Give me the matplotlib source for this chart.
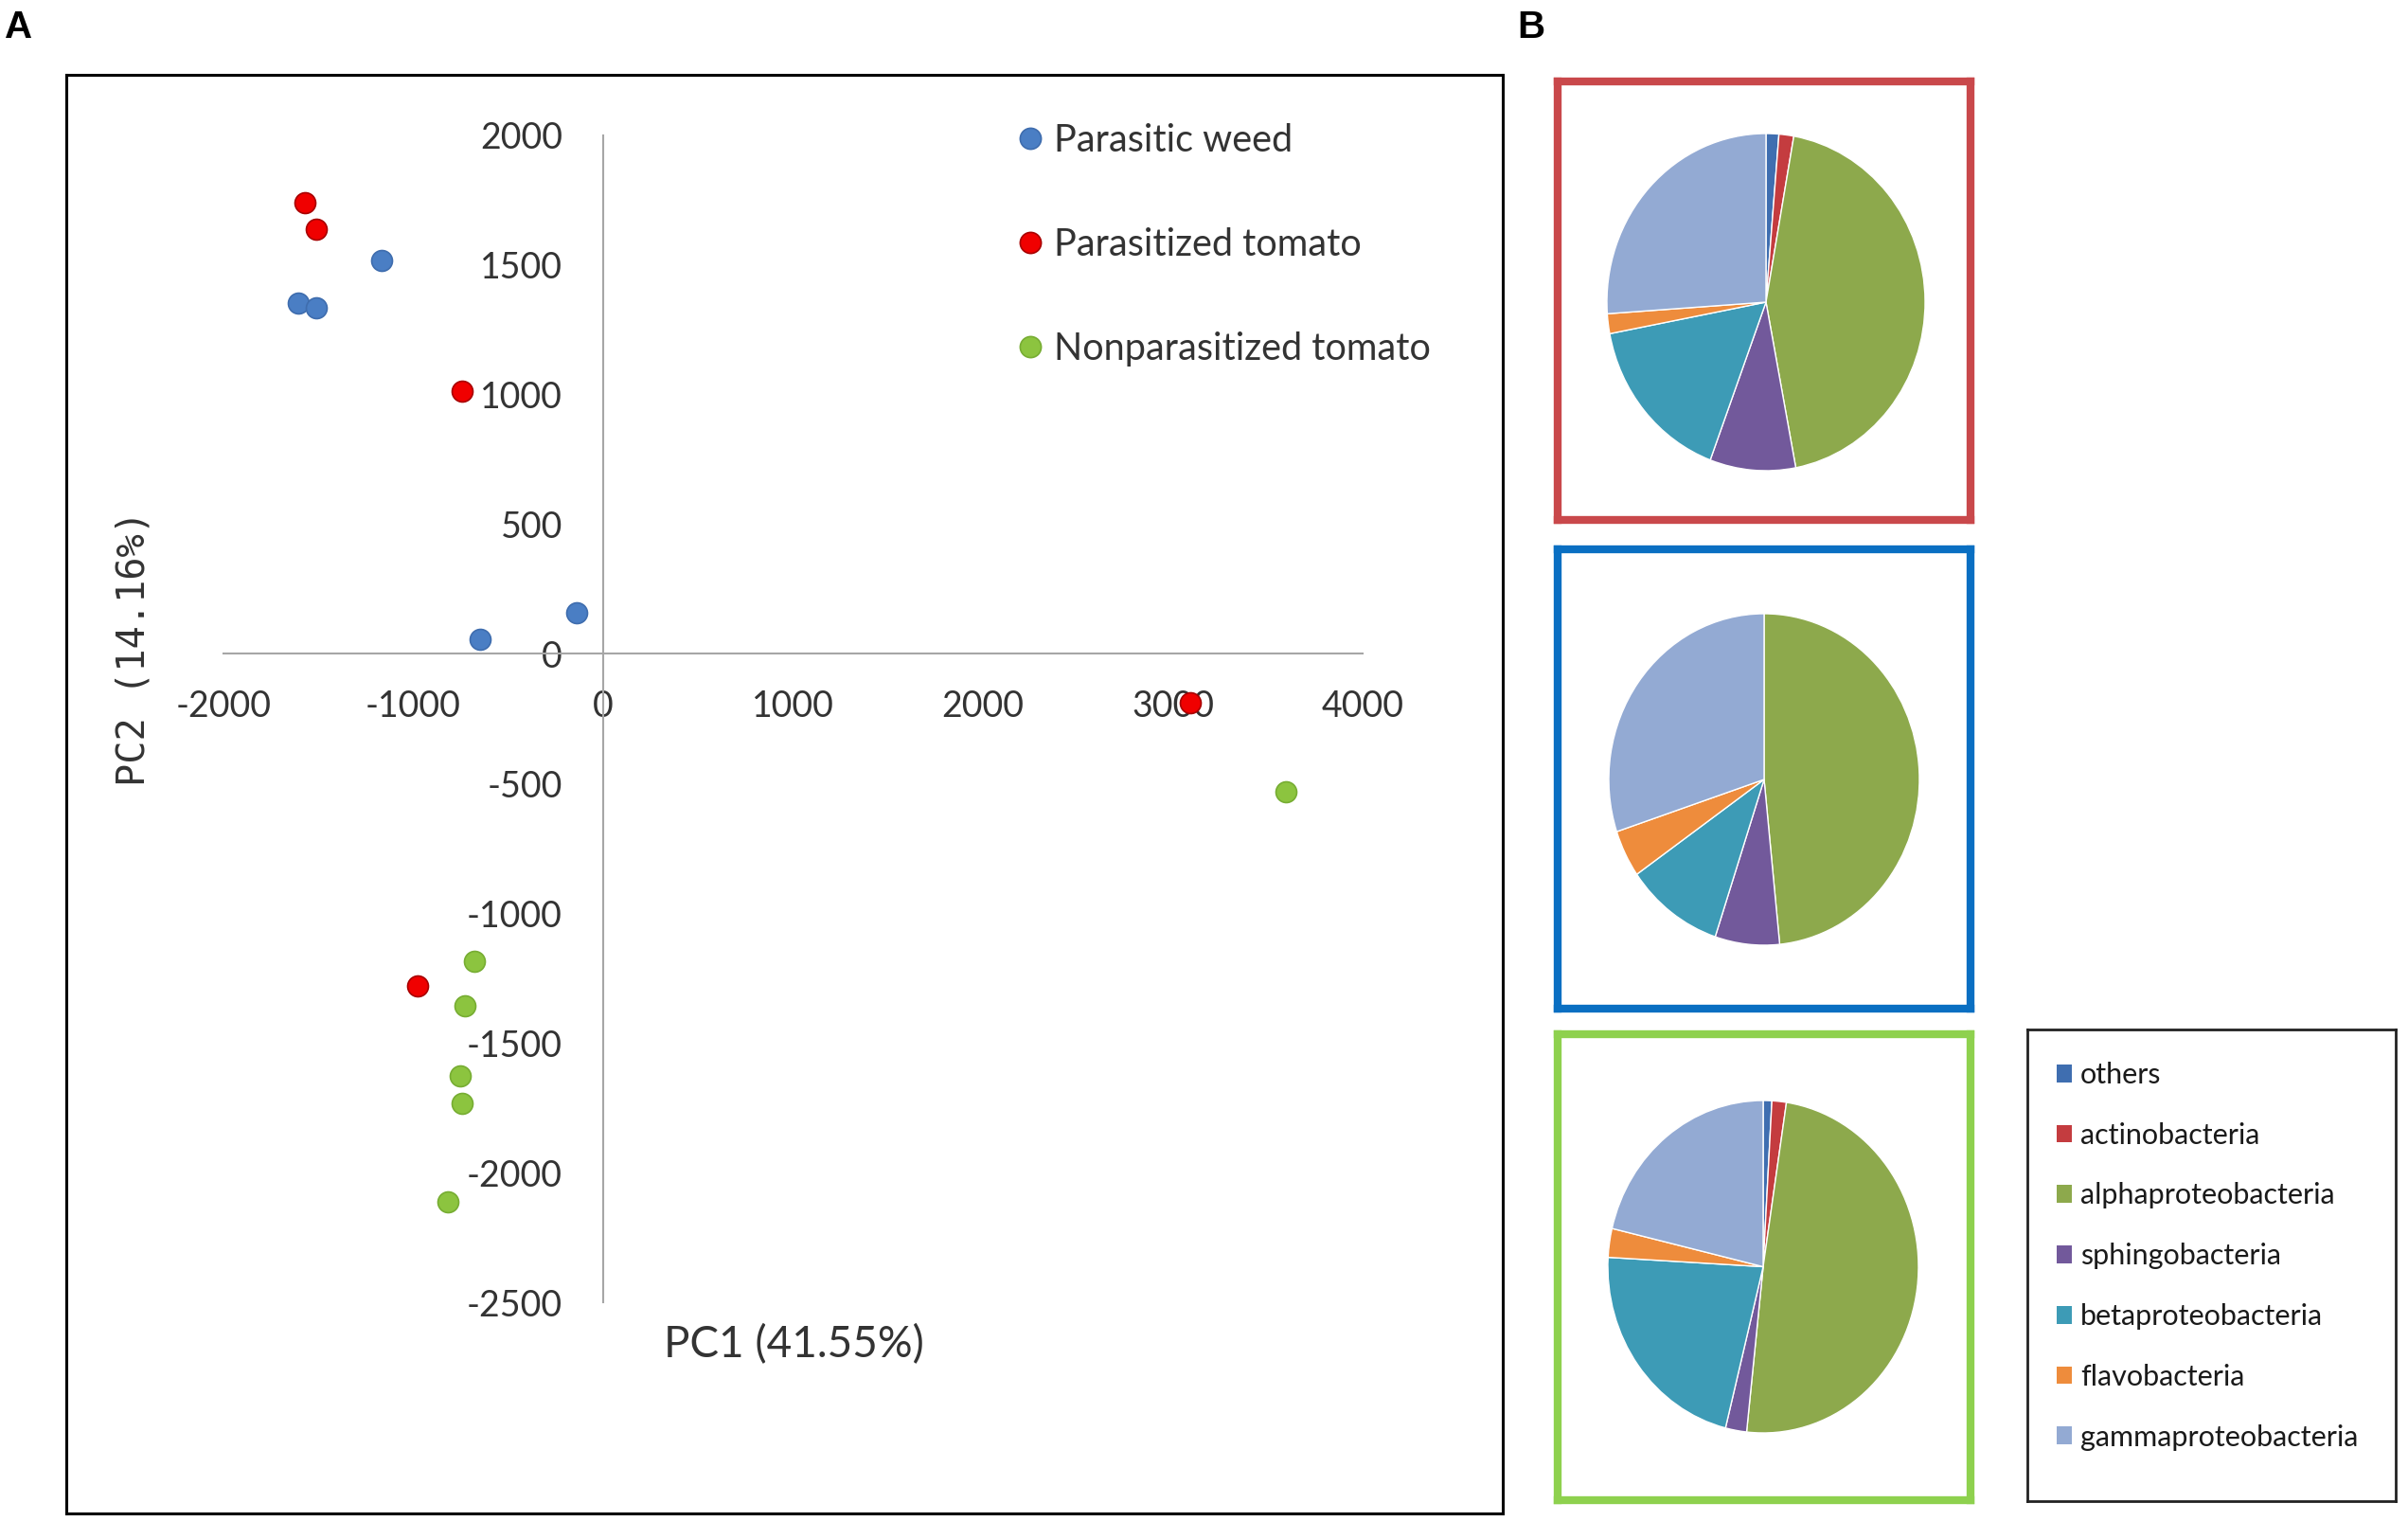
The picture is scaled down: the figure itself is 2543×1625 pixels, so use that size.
import matplotlib
matplotlib.use("Agg")
import matplotlib.pyplot as plt
from matplotlib.lines import Line2D
from matplotlib.patches import Patch

plt.rcParams['font.family'] = ['Lato', 'DejaVu Sans']
plt.rcParams['axes.unicode_minus'] = False

# ---------------- data ----------------
series_names = ['Parasitic weed', 'Parasitized tomato', 'Nonparasitized tomato']
weed_x = [-1167, -1606, -1511, -648, -140]
weed_y = [1517, 1353, 1335, 58, 158]
para_x = [-1571, -1511, -743, -978, 3092]
para_y = [1738, 1636, 1012, -1278, -189]
nonpara_x = [3596, -678, -728, -753, -743, -817]
nonpara_y = [-531, -1186, -1357, -1627, -1731, -2113]

x_ticks = [-2000, -1000, 0, 1000, 2000, 3000, 4000]
y_ticks = [-2500, -2000, -1500, -1000, -500, 0, 500, 1000, 1500, 2000]
x_label = 'PC1 (41.55%)'
y_label = 'PC2 (14.16%)'

categories = ['others', 'actinobacteria', 'alphaproteobacteria', 'sphingobacteria',
              'betaproteobacteria', 'flavobacteria', 'gammaproteobacteria']
pie_parasitized = [1.3, 1.5, 44.2, 8.7, 16.3, 1.9, 26.1]
pie_weed = [0.0, 0.0, 48.4, 6.7, 10.2, 4.6, 30.1]
pie_nonparasitized = [0.9, 1.5, 49.3, 2.2, 22.0, 2.8, 21.3]

# ---------------- styles ----------------
W, H = 2543, 1625
DPI = 100
series_colors = ['#4A7EC4', '#F00000', '#8CC43F']
series_edges = ['#3F6DAE', '#A80000', '#77AD33']
cat_colors = ['#3F6EB0', '#C43C3F', '#8DA94C', '#72599B', '#3D9BB6', '#EE8C3C', '#93AAD3']
text_col = '#333333'


def rect(x0, y0, x1, y1):
    """pixel box (top-left origin) -> figure fraction rect"""
    return [x0 / W, 1 - y1 / H, (x1 - x0) / W, (y1 - y0) / H]


fig = plt.figure(figsize=(W / DPI, H / DPI), dpi=DPI)

# ---------------- Panel A ----------------
frame = fig.add_axes(rect(70, 79, 1587, 1598))
frame.set_xticks([]); frame.set_yticks([])
for s in frame.spines.values():
    s.set_linewidth(2.2); s.set_color('black')
frame.set_zorder(0)

ax = fig.add_axes(rect(70, 79, 1587, 1598))
ax.set_zorder(1)
ax.patch.set_alpha(0)
ax.set_xlim(-2828, 4738)
ax.set_ylim(-3313, 2232)
for side in ['top', 'right']:
    ax.spines[side].set_visible(False)
ax.spines['left'].set_position(('data', 0))
ax.spines['bottom'].set_position(('data', 0))
ax.spines['left'].set_bounds(-2500, 2000)
ax.spines['bottom'].set_bounds(-2000, 4000)
for side in ['left', 'bottom']:
    ax.spines[side].set_color('#A6A6A6')
    ax.spines[side].set_linewidth(1.5)
ax.set_xticks(x_ticks)
ax.set_yticks(y_ticks)
ax.set_xticklabels([str(v) for v in x_ticks])
ax.set_yticklabels([str(v) for v in y_ticks])
ax.tick_params(axis='x', length=0, pad=27, labelsize=27, labelcolor=text_col)
ax.tick_params(axis='y', length=0, pad=31, labelsize=27, labelcolor=text_col)

for xs, ys, c, ec, name in zip([weed_x, para_x, nonpara_x], [weed_y, para_y, nonpara_y],
                               series_colors, series_edges, series_names):
    ax.scatter(xs, ys, s=250, color=c, edgecolors=ec, linewidths=1.2, zorder=4, label=name)

handles = [Line2D([], [], ls='none', marker='o', markersize=16, markerfacecolor=c,
                  markeredgecolor=ec, markeredgewidth=1.2)
           for c, ec in zip(series_colors, series_edges)]
leg = ax.legend(handles, series_names, loc='upper left',
                bbox_to_anchor=(1077 / W, 1 - 130 / H), bbox_transform=fig.transFigure,
                frameon=False, borderpad=0, borderaxespad=0, fontsize=28.5,
                handlelength=0.55, handletextpad=0.35, labelspacing=1.84)
for t in leg.get_texts():
    t.set_color(text_col)

fig.text(838 / W, 1 - 1420 / H, x_label, fontsize=33, color=text_col,
         ha='center', va='center')
fig.text(142 / W, 1 - 685 / H, y_label, fontsize=29, color=text_col,
         family=['DejaVu Sans Mono'], rotation=90, ha='center', va='center')

fig.text(5 / W, 1 - 10 / H, 'A', fontsize=29, fontweight='bold',
         family=['Liberation Sans', 'DejaVu Sans'], ha='left', va='top')
fig.text(1602 / W, 1 - 10 / H, 'B', fontsize=29, fontweight='bold',
         family=['Liberation Sans', 'DejaVu Sans'], ha='left', va='top')

# ---------------- Panel B ----------------
boxes = [((1645, 86, 2081, 549), '#C9484B'),
         ((1645, 580, 2081, 1065), '#0A6FC2'),
         ((1645, 1092, 2081, 1584), '#8ED14E')]
for (x0, y0, x1, y1), col in boxes:
    b = fig.add_axes(rect(x0, y0, x1, y1))
    b.set_xticks([]); b.set_yticks([])
    b.patch.set_alpha(0)
    for s in b.spines.values():
        s.set_linewidth(6); s.set_color(col)

pie_rects = [(1697, 141, 2033, 497), (1699, 648, 2027, 998), (1698, 1162, 2026, 1513)]
for pr, vals in zip(pie_rects, [pie_parasitized, pie_weed, pie_nonparasitized]):
    pa = fig.add_axes(rect(*pr))
    pa.pie(vals, colors=cat_colors, startangle=90, counterclock=False, radius=1,
           wedgeprops=dict(edgecolor='white', linewidth=1.0))
    pa.set_aspect('auto')
    pa.set_xlim(-1, 1)
    pa.set_ylim(-1, 1)
    pa.axis('off')

lb = fig.add_axes(rect(2141, 1087, 2530, 1585))
lb.set_xticks([]); lb.set_yticks([])
for s in lb.spines.values():
    s.set_linewidth(2); s.set_color('#222222')
phandles = [Patch(facecolor=c, edgecolor='none') for c in cat_colors]
leg2 = fig.legend(phandles, categories, loc='upper left',
                  bbox_to_anchor=(2172 / W, 1 - 1121 / H), bbox_transform=fig.transFigure,
                  frameon=False, borderpad=0, borderaxespad=0, fontsize=22,
                  handlelength=0.51, handleheight=0.56, handletextpad=0.31,
                  labelspacing=1.17)
for t in leg2.get_texts():
    t.set_color('#1a1a1a')

fig.savefig('out.png', dpi=DPI)
